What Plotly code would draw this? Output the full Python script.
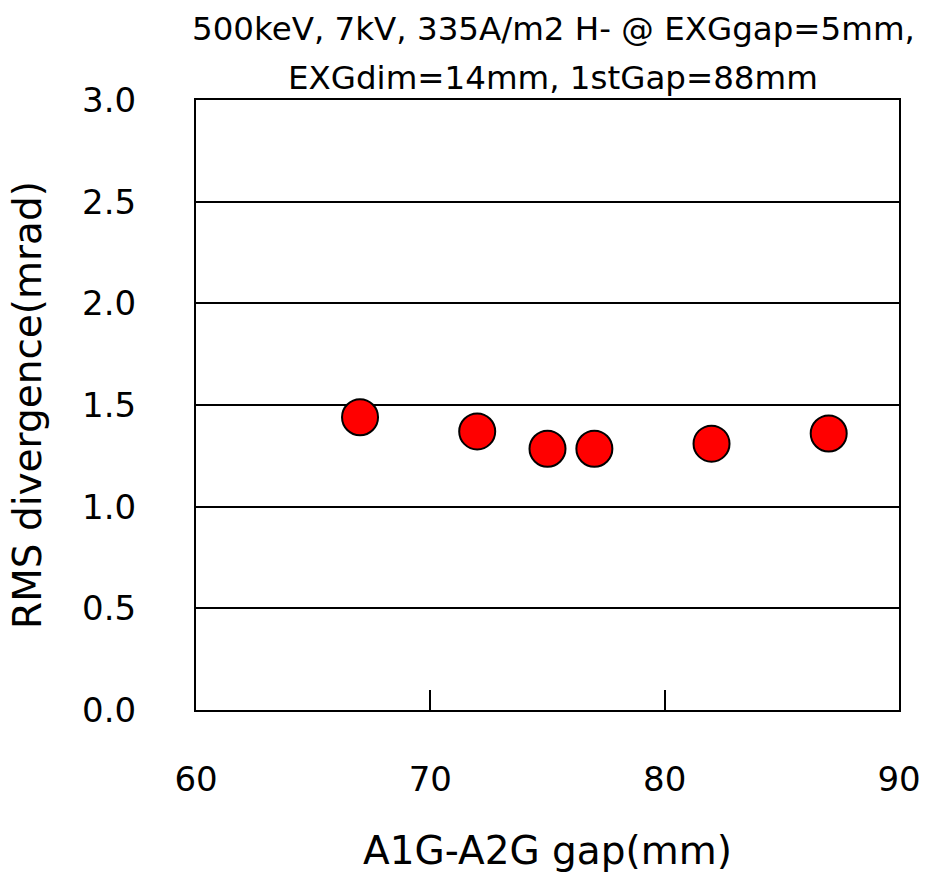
import plotly.graph_objects as go

gap_mm = [67, 72, 75, 77, 82, 87]
rms_div = [1.44, 1.37, 1.285, 1.285, 1.31, 1.36]
x_ticks = [60, 70, 80, 90]
y_ticks = [0.0, 0.5, 1.0, 1.5, 2.0, 2.5, 3.0]
title_lines = ["500keV, 7kV, 335A/m2 H- @ EXGgap=5mm,", "EXGdim=14mm, 1stGap=88mm"]

font = "DejaVu Sans, Liberation Sans, Arial"

fig = go.Figure()
fig.add_trace(go.Scatter(
    x=gap_mm, y=rms_div, mode="markers",
    marker=dict(size=36, color="#ff0000", line=dict(color="black", width=2)),
    showlegend=False,
))

fig.update_layout(
    width=933, height=877,
    margin=dict(l=196, r=31, t=100, b=167),
    paper_bgcolor="white", plot_bgcolor="white",
    font=dict(family=font, color="black"),
    xaxis=dict(
        range=[60, 90], tickvals=x_ticks, ticktext=[str(v) for v in x_ticks],
        showgrid=False, zeroline=False,
        showline=True, linecolor="black", linewidth=2, mirror=True,
        ticks="inside", ticklen=20, tickwidth=2, tickcolor="black",
        tickfont=dict(size=34), ticklabelstandoff=38,
        title=dict(text="A1G-A2G gap(mm)", font=dict(size=39), standoff=39),
    ),
    yaxis=dict(
        range=[0, 3], tickvals=y_ticks, ticktext=[f"{v:.1f}" for v in y_ticks],
        showgrid=True, gridcolor="black", gridwidth=2,
        zeroline=False,
        showline=True, linecolor="black", linewidth=2, mirror=True,
        ticks="", tickfont=dict(size=34), ticklabelstandoff=51,
        title=dict(text="RMS divergence(mrad)", font=dict(size=39), standoff=28),
    ),
)

for i, line in enumerate(title_lines):
    fig.add_annotation(text=line, xref="paper", yref="paper", x=(555 - 196) / (902 - 196),
                       y=1 + (100 - (29 + 49 * i)) / 610, showarrow=False,
                       font=dict(size=32.5), xanchor="center", yanchor="middle")

fig.write_html("out.html")
